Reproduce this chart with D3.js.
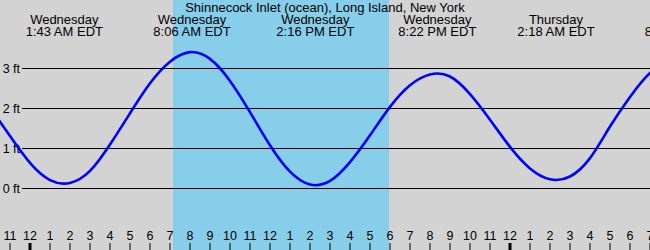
<!DOCTYPE html>
<html>
<head>
<meta charset="utf-8">
<script src="https://cdn.jsdelivr.net/npm/d3@7"></script>
<style>
  html, body { margin: 0; padding: 0; background: #d3d3d3; }
  svg { display: block; }
  text { font-family: "Liberation Sans", Arial, sans-serif; fill: #000; }
</style>
</head>
<body>
<svg id="chart" width="650" height="250"></svg>
<script>
// ---- data (hours since midnight Wednesday; heights in ft) ----
const title = "Shinnecock Inlet (ocean), Long Island, New York";
const tideHours = [-2, -1, 0, 1, 2, 3, 4, 5, 6, 7, 8, 9, 10, 11, 12, 13, 14, 15, 16, 17, 18, 19, 20, 21, 22, 23, 24, 25, 26, 27, 28, 29, 30, 31, 32];
const tideHeights = [2.03, 1.31, 0.64, 0.21, 0.14, 0.44, 1.1, 1.88, 2.63, 3.17, 3.41, 3.24, 2.69, 1.91, 1.08, 0.42, 0.1, 0.19, 0.66, 1.33, 2.04, 2.58, 2.85, 2.8, 2.36, 1.72, 1.04, 0.5, 0.23, 0.3, 0.76, 1.55, 2.29, 2.89, 3.22];
const eventHours = [1.717, 8.1, 14.267, 20.367, 26.3, 32.67];
const eventDays = ["Wednesday", "Wednesday", "Wednesday", "Wednesday", "Thursday", "Thursday"];
const eventTimes = ["1:43 AM EDT", "8:06 AM EDT", "2:16 PM EDT", "8:22 PM EDT", "2:18 AM EDT", "8:40 AM EDT"];
const sunrise = 7.15, sunset = 17.95;
const yTicks = [0, 1, 2, 3];
const yTickLabels = ["0 ft", "1 ft", "2 ft", "3 ft"];
const hourTicks = d3.range(-1, 32);

// ---- scales ----
const W = 650, H = 250;
const x = d3.scaleLinear().domain([-1.5, 31]).range([0, 650]);
const y = d3.scaleLinear().domain([0, 3]).range([188.5, 68.5]);

const svg = d3.select("#chart");

svg.append("rect").attr("x", 0).attr("y", 0).attr("width", W).attr("height", H).attr("fill", "#d3d3d3");

// daylight band
svg.append("rect")
  .attr("x", x(sunrise)).attr("y", 0)
  .attr("width", x(sunset) - x(sunrise)).attr("height", H)
  .attr("fill", "#87ceeb");

// grid lines
svg.append("g").selectAll("line").data(yTicks).join("line")
  .attr("x1", 22).attr("x2", W)
  .attr("y1", d => y(d)).attr("y2", d => y(d))
  .attr("stroke", "#000").attr("stroke-width", 1);

// y labels
svg.append("g").selectAll("text").data(yTicks).join("text")
  .attr("x", 20).attr("y", d => y(d) + 4)
  .attr("text-anchor", "end")
  .attr("font-size", 12.5)
  .text((d, i) => yTickLabels[i]);

// tide curve
svg.append("defs").append("clipPath").attr("id", "clip")
  .append("rect").attr("x", 0).attr("y", 0).attr("width", W).attr("height", H);

const line = d3.line()
  .x((d, i) => x(tideHours[i]))
  .y(d => y(d))
  .curve(d3.curveNatural);

svg.append("path")
  .attr("clip-path", "url(#clip)")
  .attr("d", line(tideHeights))
  .attr("fill", "none")
  .attr("stroke", "#0000ff")
  .attr("stroke-width", 2.6);

// title
svg.append("text")
  .attr("x", W / 2).attr("y", 12)
  .attr("text-anchor", "middle")
  .attr("font-size", 13)
  .text(title);

// event labels
const ev = svg.append("g").selectAll("g").data(eventHours).join("g");
ev.append("text")
  .attr("x", d => x(d)).attr("y", 24)
  .attr("text-anchor", "middle").attr("font-size", 13)
  .text((d, i) => eventDays[i]);
ev.append("text")
  .attr("x", d => x(d)).attr("y", 36)
  .attr("text-anchor", "middle").attr("font-size", 13)
  .text((d, i) => eventTimes[i]);

// hour axis
const hourLabel = h => { const v = ((h % 12) + 12) % 12; return v === 0 ? "12" : String(v); };
const isMidnight = h => ((h % 24) + 24) % 24 === 0;

svg.append("g").selectAll("line").data(hourTicks).join("line")
  .attr("x1", d => x(d)).attr("x2", d => x(d))
  .attr("y1", 243).attr("y2", H)
  .attr("stroke", "#000")
  .attr("stroke-width", d => isMidnight(d) ? 3 : 1);

svg.append("g").selectAll("text").data(hourTicks).join("text")
  .attr("x", d => x(d)).attr("y", 240)
  .attr("text-anchor", "middle").attr("font-size", 12.5)
  .text(d => hourLabel(d));
</script>
</body>
</html>
